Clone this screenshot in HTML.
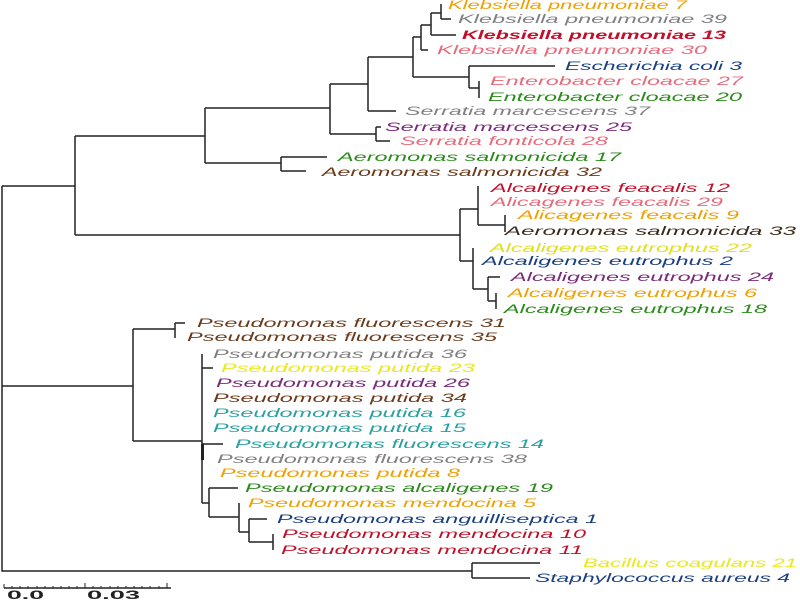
<!DOCTYPE html>
<html><head><meta charset="utf-8"><style>html,body{margin:0;padding:0;background:#fff;}svg{display:block}</style></head>
<body>
<svg width="800" height="600" viewBox="0 0 800 600" xmlns="http://www.w3.org/2000/svg">
<g stroke="#222" stroke-width="1.5" fill="none">
<path d="M2,186V571H472"/>
<path d="M2,186H75M75,136V235M75,136H205M75,235H460"/>
<path d="M205,108V163M205,108H330M205,163H281"/>
<path d="M330,84V134M330,84H368M330,134H376"/>
<path d="M368,57V111M368,57H413M368,111H396"/>
<path d="M413,37V77M413,37H421M413,77H469"/>
<path d="M421,25V50M421,25H431M421,50H428"/>
<path d="M431,13V35M431,13H441M431,35H456"/>
<path d="M441,4V19M441,19H451"/>
<path d="M469,66V88M469,66H555M469,88H479M479,81V98"/>
<path d="M376,127V141M376,127H381M376,141H390"/>
<path d="M281,157V171M281,157H327M281,171H306"/>
<path d="M460,209V261M460,209H478M460,261H473"/>
<path d="M478,186V225M478,225H505M505,215V232"/>
<path d="M473,248V289M473,289H488M488,277V301M488,277H500M488,301H496M496,293V309"/>
<path d="M2,386H133M133,329V441M133,329H175M133,441H202"/>
<path d="M175,323V338M175,323H185"/>
<path d="M202,354V503M202,368H213M202,444H223M202,503H209"/>
<path d="M209,488V517M209,488H238M209,517H239"/>
<path d="M239,503V532M239,532H249M249,519V542M249,519H267M249,542H273M273,534V550"/>
<path d="M472,563V578M472,563H540M472,578H530"/>
<path d="M4,588H171"/>
</g>
<rect x="201" y="444" width="3" height="16" fill="#222"/>
<g stroke="#222" stroke-width="1">
<path d="M4,584V588M12,586V588M20,586V588M28,586V588M37,586V588M45,586V588M53,586V588M61,586V588M69,586V588M77,586V588M85,583V588M93,586V588M101,586V588M110,586V588M118,586V588M126,586V588M134,586V588M142,586V588M150,586V588M159,586V588M167,583V588"/>
</g>
<g font-family="Liberation Sans, sans-serif" font-size="12" font-style="italic">
<text x="448" y="9" fill="#f0a000" textLength="239" lengthAdjust="spacingAndGlyphs">Klebsiella pneumoniae 7</text>
<text x="458" y="23" fill="#808080" textLength="269" lengthAdjust="spacingAndGlyphs">Klebsiella pneumoniae 39</text>
<text x="462" y="39" fill="#c0102a" font-weight="bold" textLength="264" lengthAdjust="spacingAndGlyphs">Klebsiella pneumoniae 13</text>
<text x="437" y="54" fill="#e86a7a" textLength="270" lengthAdjust="spacingAndGlyphs">Klebsiella pneumoniae 30</text>
<text x="565" y="70" fill="#1a3f80" textLength="177" lengthAdjust="spacingAndGlyphs">Escherichia coli 3</text>
<text x="490" y="85" fill="#e86a7a" textLength="253" lengthAdjust="spacingAndGlyphs">Enterobacter cloacae 27</text>
<text x="488" y="101" fill="#2a8a1a" textLength="254" lengthAdjust="spacingAndGlyphs">Enterobacter cloacae 20</text>
<text x="405" y="115" fill="#808080" textLength="245" lengthAdjust="spacingAndGlyphs">Serratia marcescens 37</text>
<text x="385" y="131" fill="#7a2a7a" textLength="247" lengthAdjust="spacingAndGlyphs">Serratia marcescens 25</text>
<text x="400" y="145" fill="#e86a7a" textLength="208" lengthAdjust="spacingAndGlyphs">Serratia fonticola 28</text>
<text x="338" y="161" fill="#2a8a1a" textLength="283" lengthAdjust="spacingAndGlyphs">Aeromonas salmonicida 17</text>
<text x="322" y="176" fill="#6b3a1a" textLength="280" lengthAdjust="spacingAndGlyphs">Aeromonas salmonicida 32</text>
<text x="491" y="192" fill="#c0102a" textLength="239" lengthAdjust="spacingAndGlyphs">Alcaligenes feacalis 12</text>
<text x="491" y="206" fill="#e86a7a" textLength="232" lengthAdjust="spacingAndGlyphs">Alicagenes feacalis 29</text>
<text x="518" y="219" fill="#f0a000" textLength="221" lengthAdjust="spacingAndGlyphs">Alicagenes feacalis 9</text>
<text x="505" y="235" fill="#3a2a1a" textLength="291" lengthAdjust="spacingAndGlyphs">Aeromonas salmonicida 33</text>
<text x="490" y="252" fill="#e0e020" textLength="262" lengthAdjust="spacingAndGlyphs">Alcaligenes eutrophus 22</text>
<text x="482" y="265" fill="#1a3f80" textLength="251" lengthAdjust="spacingAndGlyphs">Alcaligenes eutrophus 2</text>
<text x="511" y="281" fill="#7a2a7a" textLength="263" lengthAdjust="spacingAndGlyphs">Alcaligenes eutrophus 24</text>
<text x="508" y="297" fill="#f0a000" textLength="249" lengthAdjust="spacingAndGlyphs">Alcaligenes eutrophus 6</text>
<text x="504" y="313" fill="#2a8a1a" textLength="263" lengthAdjust="spacingAndGlyphs">Alcaligenes eutrophus 18</text>
<text x="197" y="327" fill="#6b3a1a" textLength="309" lengthAdjust="spacingAndGlyphs">Pseudomonas fluorescens 31</text>
<text x="187" y="341" fill="#6b3a1a" textLength="310" lengthAdjust="spacingAndGlyphs">Pseudomonas fluorescens 35</text>
<text x="213" y="358" fill="#808080" textLength="254" lengthAdjust="spacingAndGlyphs">Pseudomonas putida 36</text>
<text x="221" y="372" fill="#e8e820" textLength="254" lengthAdjust="spacingAndGlyphs">Pseudomonas putida 23</text>
<text x="216" y="387" fill="#7a2a7a" textLength="254" lengthAdjust="spacingAndGlyphs">Pseudomonas putida 26</text>
<text x="213" y="402" fill="#6b3a1a" textLength="254" lengthAdjust="spacingAndGlyphs">Pseudomonas putida 34</text>
<text x="213" y="417" fill="#2aa0a0" textLength="253" lengthAdjust="spacingAndGlyphs">Pseudomonas putida 16</text>
<text x="213" y="432" fill="#2aa0a0" textLength="253" lengthAdjust="spacingAndGlyphs">Pseudomonas putida 15</text>
<text x="235" y="448" fill="#2aa0a0" textLength="309" lengthAdjust="spacingAndGlyphs">Pseudomonas fluorescens 14</text>
<text x="217" y="463" fill="#808080" textLength="310" lengthAdjust="spacingAndGlyphs">Pseudomonas fluorescens 38</text>
<text x="220" y="477" fill="#f0a000" textLength="240" lengthAdjust="spacingAndGlyphs">Pseudomonas putida 8</text>
<text x="245" y="492" fill="#2a8a1a" textLength="308" lengthAdjust="spacingAndGlyphs">Pseudomonas alcaligenes 19</text>
<text x="248" y="507" fill="#f0a000" textLength="288" lengthAdjust="spacingAndGlyphs">Pseudomonas mendocina 5</text>
<text x="277" y="523" fill="#1a3f80" textLength="321" lengthAdjust="spacingAndGlyphs">Pseudomonas anguilliseptica 1</text>
<text x="282" y="538" fill="#c0102a" textLength="304" lengthAdjust="spacingAndGlyphs">Pseudomonas mendocina 10</text>
<text x="281" y="554" fill="#c0102a" textLength="302" lengthAdjust="spacingAndGlyphs">Pseudomonas mendocina 11</text>
<text x="583" y="567" fill="#e8e820" textLength="214" lengthAdjust="spacingAndGlyphs">Bacillus coagulans 21</text>
<text x="535" y="582" fill="#1a3f80" textLength="255" lengthAdjust="spacingAndGlyphs">Staphylococcus aureus 4</text>
</g>
<g font-family="Liberation Sans, sans-serif" font-size="12" font-weight="bold" fill="#222">
<text x="7" y="599" textLength="37" lengthAdjust="spacingAndGlyphs">0.0</text>
<text x="87" y="599" textLength="53" lengthAdjust="spacingAndGlyphs">0.03</text>
</g>
</svg>
</body></html>
